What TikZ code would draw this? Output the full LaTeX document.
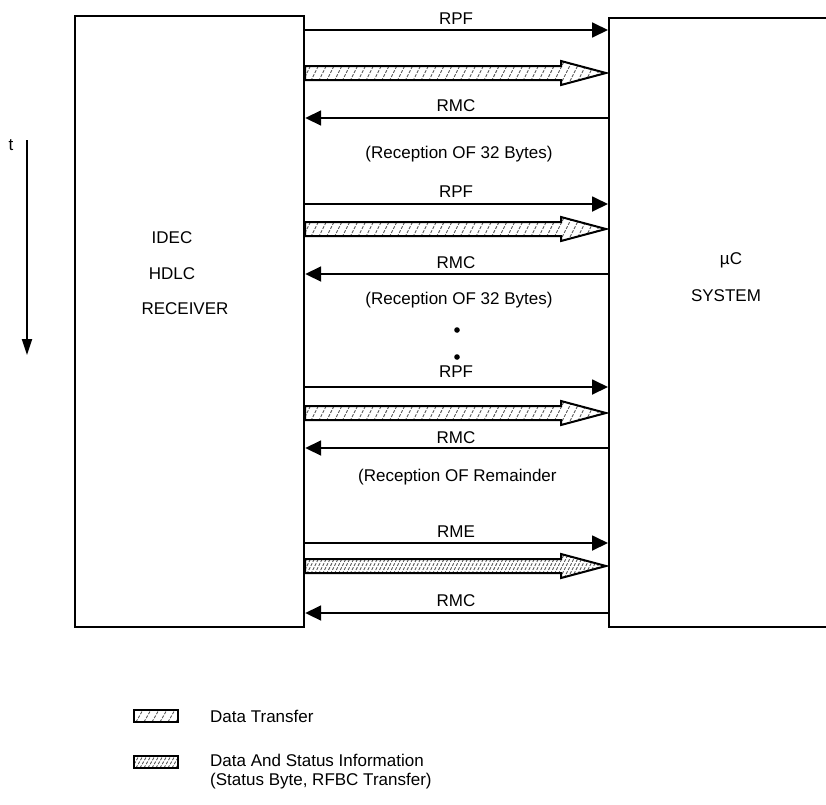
\documentclass[tikz,border=0pt]{standalone}
\usepackage{fontspec}
\setmainfont{Liberation Sans}
\usetikzlibrary{arrows.meta,calc}
\newcommand\harrow[2]{%
  \path (L.east |- 0,#1) coordinate (hs) (R.west |- 0,#1) coordinate (he);
  \begin{scope}
    \clip (hs) ++(0,7) -- ($(he)+(-47,7)$) -- ($(he)+(-47,12)$) -- ($(he)+(-2,0)$)
      -- ($(he)+(-47,-12)$) -- ($(he)+(-47,-7)$) -- ($(hs)+(0,-7)$) -- cycle;
    \foreach \k [evaluate=\k as \xx using \k*(330/#2)-20] in {0,...,#2} \draw[hatch] ($(hs)+(\xx,12)$) -- ++(12,-24);
  \end{scope}
  \draw[harr] (hs) ++(0,7) -- ($(he)+(-47,7)$) -- ($(he)+(-47,12)$) -- ($(he)+(-2,0)$)
      -- ($(he)+(-47,-12)$) -- ($(he)+(-47,-7)$) -- ($(hs)+(0,-7)$) -- cycle;
}
\begin{document}
\begin{tikzpicture}[x=1pt,y=-1pt,
  every node/.style={font=\fontsize{17}{19}\selectfont},
  box/.style={draw,line width=2.2pt,rectangle,inner sep=0pt,anchor=north west},
  sig/.style={line width=1.8pt,-{Triangle[length=16pt,width=15pt]}},
  harr/.style={line width=2pt,line join=miter},
  hatch/.style={black!65,line width=0.9pt,dash pattern=on 3pt off 1.5pt},
  lbl/.style={inner sep=0pt,anchor=base},
  legbox/.style={draw,line width=1.8pt,minimum width=44pt,minimum height=12pt,inner sep=0pt}]
\clip (0,0) rectangle (826,804);
\node[box,minimum width=229pt,minimum height=611pt] (L) at (74,15) {};
\node[box,minimum width=240pt,minimum height=609pt] (R) at (608,17) {};
% left box text
\node[lbl] (t1) at (172,243) {IDEC};
\node[lbl] (t2) at (172,279) {HDLC};
\node[lbl] (t3) at (185,314) {RECEIVER};
\node[lbl] (t4) at (731,264) {\textmu C};
\node[lbl] (t5) at (726,301) {SYSTEM};
% time arrow
\node[lbl] (tt) at (11,150) {t};
\coordinate (ta) at (27,140);
\coordinate (tb) at (27,355);
\draw[line width=2.2pt,-{Triangle[length=16pt,width=10pt]}] (ta) -- (tb);
% block 1
\draw[sig] (L.east |- 0,30) -- (R.west |- 0,30);
\node[lbl] (a1) at (456,24) {RPF};
\harrow{73}{42}
\draw[sig] (R.west |- 0,118) -- (L.east |- 0,118);
\node[lbl] (a2) at (456,111) {RMC};
\node[lbl] (a3) at (459,158) {(Reception OF 32 Bytes)};
% block 2
\draw[sig] (L.east |- 0,204) -- (R.west |- 0,204);
\node[lbl] (b1) at (456,197) {RPF};
\harrow{229}{42}
\draw[sig] (R.west |- 0,274) -- (L.east |- 0,274);
\node[lbl] (b2) at (456,268) {RMC};
\node[lbl] (b3) at (459,304) {(Reception OF 32 Bytes)};
\fill (457,330) circle (2.8pt);
\fill (457,357) circle (2.8pt);
% block 3
\draw[sig] (L.east |- 0,387) -- (R.west |- 0,387);
\node[lbl] (c1) at (456,377) {RPF};
\harrow{413}{42}
\draw[sig] (R.west |- 0,448) -- (L.east |- 0,448);
\node[lbl] (c2) at (456,443) {RMC};
\node[lbl,anchor=base west] (c3) at (358,481) {(Reception OF Remainder};
% block 4
\draw[sig] (L.east |- 0,543) -- (R.west |- 0,543);
\node[lbl] (d1) at (456,537) {RME};
\harrow{566}{84}
\draw[sig] (R.west |- 0,613) -- (L.east |- 0,613);
\node[lbl] (d2) at (456,606) {RMC};
% legend
\node[legbox,path picture={\foreach \k in {0,...,6} \draw[hatch] ($(path picture bounding box.south west)+(\k*8-6,0)$) -- ++(8,-14);}] (g1) at (156,716) {};
\node[lbl,anchor=base west] (g1t) at (210,722) {Data Transfer};
\node[legbox,path picture={\foreach \k in {0,...,12} \draw[hatch] ($(path picture bounding box.south west)+(\k*4-6,0)$) -- ++(8,-14);}] (g2) at (156,762) {};
\node[inner sep=0pt,anchor=north west,align=left] (g2t) at (210,754) {Data And Status Information\\(Status Byte, RFBC Transfer)};
\end{tikzpicture}
\end{document}
